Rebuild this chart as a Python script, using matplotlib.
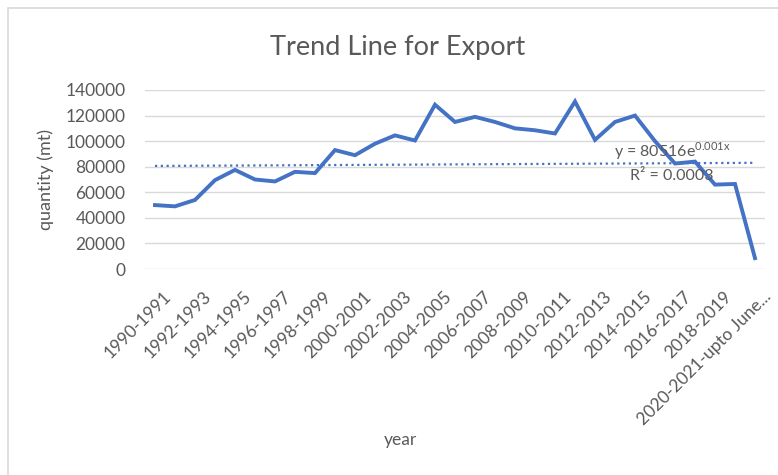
import numpy as np
import matplotlib
matplotlib.use("Agg")
import matplotlib.pyplot as plt
from matplotlib.patches import Rectangle
from matplotlib.transforms import ScaledTranslation

plt.rcParams['font.family'] = ['Lato', 'DejaVu Sans']
plt.rcParams['mathtext.fontset'] = 'custom'
plt.rcParams['mathtext.rm'] = 'Lato'

years = [f"{y}-{y+1}" for y in range(1990, 2020)] + ["2020-2021-upto June..."]
quantity = [50000, 49000, 54000, 69500, 77500, 70000, 68500, 76000, 75000, 93000,
            89000, 98000, 104500, 100500, 128500, 115000, 119000, 115000, 110000, 108500,
            106000, 131000, 101000, 115000, 120000, 100000, 82500, 84000, 66000, 66500,
            8500]
trend_a = 80516
trend_b = 0.001
eq_text = r"y = 80516e$^{\mathrm{0.001x}}$"
r2_text = "R² = 0.0003"

gray = "#595959"
blue = "#4472C4"

fig = plt.figure(figsize=(7.78, 4.75), dpi=100)
fig.patches.append(Rectangle((8/778, -0.1), 1.0, 1 - 8/475 + 0.1, transform=fig.transFigure,
                             fill=False, edgecolor="#D9D9D9", linewidth=1.2))
ax = fig.add_axes([145/778, 1 - 269/475, 620/778, 179/475])

x = np.arange(len(years))
ax.plot(x, quantity, color=blue, linewidth=2.8, solid_joinstyle='miter', zorder=3)
xt = x + 1
trend = trend_a * np.exp(trend_b * xt)
ax.plot(x, trend, color=blue, linewidth=1.6, linestyle=(0, (1, 1.6)), zorder=2)

ax.set_xlim(-0.5, len(years) - 0.5)
ax.set_ylim(0, 140000)
ax.set_yticks(np.arange(0, 140001, 20000))
ax.yaxis.grid(True, color="#D9D9D9", linewidth=1)
ax.set_axisbelow(True)
for s in ax.spines.values():
    s.set_visible(False)
ax.tick_params(axis='both', length=0, colors=gray, labelsize=12.5)
ax.tick_params(axis='y', pad=14)
ax.set_xticks(x[::2])
ax.set_xticklabels(years[::2], rotation=45, ha='right', rotation_mode='anchor')
ax.tick_params(axis='x', pad=14)
off = ScaledTranslation(8/100, 0, fig.dpi_scale_trans)
for lbl in ax.get_xticklabels():
    lbl.set_transform(lbl.get_transform() + off)

ax.set_ylabel("quantity (mt)", color=gray, fontsize=13, labelpad=8)
fig.text(400/778, 1 - 440/475, "year", color=gray, fontsize=12.5, ha='center', va='center')
fig.text(398/778, 1 - 47/475, "Trend Line for Export", color=gray, fontsize=19.5, ha='center', va='center')

ax.text(25.85, 92500, eq_text, color=gray, fontsize=11.5, ha='center', va='center')
ax.text(25.85, 72500, r2_text, color=gray, fontsize=11.5, ha='center', va='center')

fig.savefig("out.png", dpi=100, facecolor="white")
